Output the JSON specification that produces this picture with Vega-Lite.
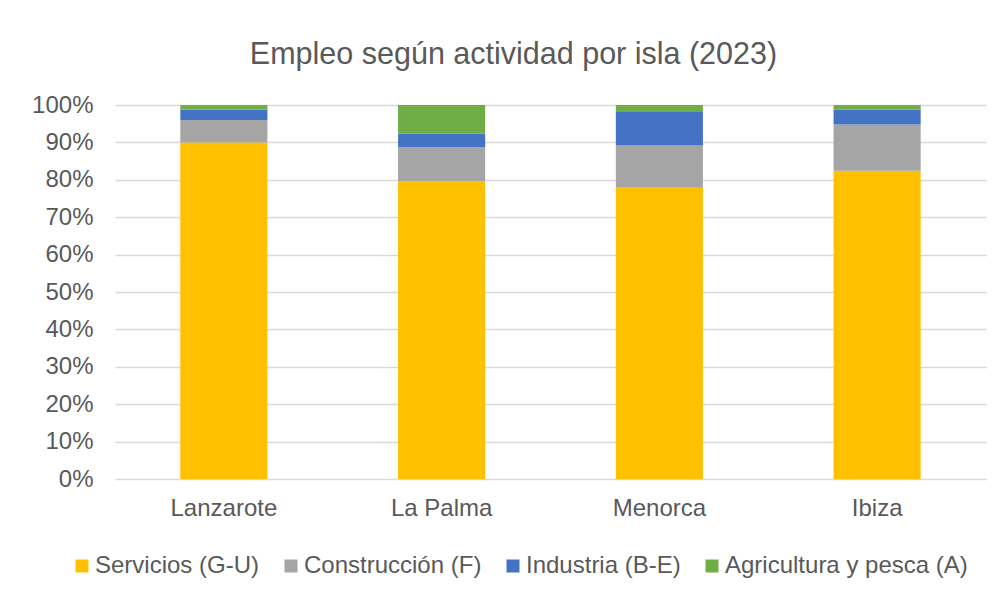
{
  "$schema": "https://vega.github.io/schema/vega-lite/v6.json",
  "width": 871,
  "height": 374,
  "autosize": {"type": "none"},
  "padding": {"left": 115, "top": 105, "right": 18, "bottom": 116},
  "background": "white",
  "title": {"text": "Empleo según actividad por isla (2023)", "fontSize": 30.5, "font": "Liberation Sans", "fontWeight": "normal", "color": "#595959", "offset": 23, "anchor": "middle", "dx": -37},
  "data": {"values": [
    {"isla": "Lanzarote", "actividad": "Servicios (G-U)", "orden": 1, "pct": 0.900},
    {"isla": "Lanzarote", "actividad": "Construcción (F)", "orden": 2, "pct": 0.060},
    {"isla": "Lanzarote", "actividad": "Industria (B-E)", "orden": 3, "pct": 0.027},
    {"isla": "Lanzarote", "actividad": "Agricultura y pesca (A)", "orden": 4, "pct": 0.013},
    {"isla": "La Palma", "actividad": "Servicios (G-U)", "orden": 1, "pct": 0.796},
    {"isla": "La Palma", "actividad": "Construcción (F)", "orden": 2, "pct": 0.091},
    {"isla": "La Palma", "actividad": "Industria (B-E)", "orden": 3, "pct": 0.037},
    {"isla": "La Palma", "actividad": "Agricultura y pesca (A)", "orden": 4, "pct": 0.076},
    {"isla": "Menorca", "actividad": "Servicios (G-U)", "orden": 1, "pct": 0.781},
    {"isla": "Menorca", "actividad": "Construcción (F)", "orden": 2, "pct": 0.111},
    {"isla": "Menorca", "actividad": "Industria (B-E)", "orden": 3, "pct": 0.089},
    {"isla": "Menorca", "actividad": "Agricultura y pesca (A)", "orden": 4, "pct": 0.019},
    {"isla": "Ibiza", "actividad": "Servicios (G-U)", "orden": 1, "pct": 0.824},
    {"isla": "Ibiza", "actividad": "Construcción (F)", "orden": 2, "pct": 0.124},
    {"isla": "Ibiza", "actividad": "Industria (B-E)", "orden": 3, "pct": 0.040},
    {"isla": "Ibiza", "actividad": "Agricultura y pesca (A)", "orden": 4, "pct": 0.012}
  ]},
  "mark": {"type": "bar"},
  "encoding": {
    "x": {"field": "isla", "type": "nominal", "sort": ["Lanzarote", "La Palma", "Menorca", "Ibiza"],
      "scale": {"paddingInner": 0.6, "paddingOuter": 0.3},
      "axis": {"title": null, "labelAngle": 0, "ticks": false, "domain": false, "labelPadding": 17, "labelFontSize": 24, "labelFont": "Liberation Sans", "labelColor": "#595959"}},
    "y": {"field": "pct", "type": "quantitative", "stack": "zero",
      "scale": {"domain": [0, 1], "nice": false},
      "axis": {"title": null, "format": ".0%", "values": [0, 0.1, 0.2, 0.3, 0.4, 0.5, 0.6, 0.7, 0.8, 0.9, 1], "ticks": false, "domain": false, "labelPadding": 22, "labelFontSize": 24, "labelFont": "Liberation Sans", "labelColor": "#595959", "gridColor": "#D9D9D9", "gridWidth": 1.5}},
    "color": {"field": "actividad", "type": "nominal",
      "sort": ["Servicios (G-U)", "Construcción (F)", "Industria (B-E)", "Agricultura y pesca (A)"],
      "scale": {"domain": ["Servicios (G-U)", "Construcción (F)", "Industria (B-E)", "Agricultura y pesca (A)"], "range": ["#FFC000", "#A5A5A5", "#4472C4", "#70AD47"]},
      "legend": {"title": null, "orient": "none", "direction": "horizontal", "legendX": -45, "legendY": 449, "symbolType": "square", "symbolSize": 169, "symbolStrokeWidth": 0, "labelFontSize": 24, "labelFont": "Liberation Sans", "labelColor": "#595959", "labelOffset": 1, "columnPadding": 19, "labelLimit": 500}},
    "order": {"field": "orden", "type": "quantitative", "sort": "ascending"}
  },
  "config": {"view": {"stroke": null}}
}
